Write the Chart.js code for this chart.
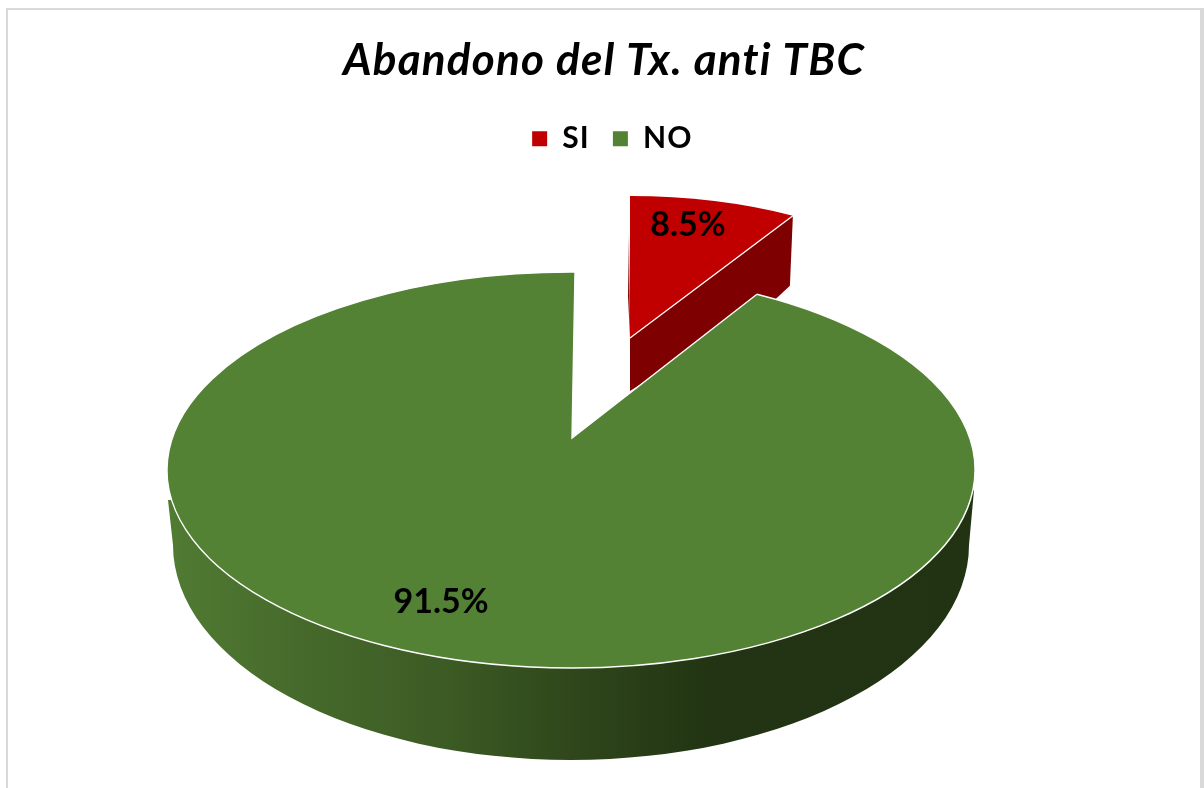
<!DOCTYPE html>
<html>
<head>
<meta charset="utf-8">
<style>html,body{margin:0;padding:0;background:#fff}canvas{display:block}</style>
<script src="https://cdn.jsdelivr.net/npm/chart.js@4"></script>
</head>
<body>
<canvas id="c" width="1204" height="788"></canvas>
<script>
const categories = ['SI', 'NO'];
const percentages = [8.5, 91.5];
const sliceColors = ['#c00000', '#548235'];
const titleText = 'Abandono del Tx. anti TBC';

// Projection of the flat pie onto the tilted 3D look
const FONT = 'Lato, Carlito, "Open Sans", sans-serif';
const greenTop = {cx: 571, cy: 470, rx: 404, ry: 198};
const greenBase = {cx: 571, cy: 545, rx: 398, ry: 215};
const greenApex = {x: 572, y: 438};
const greenTrim = {start: 0.57, end: 27.4};   // perspective-corrected cut angles (deg)
const redTop = {cx: 630, cy: 338, rx: 320, ry: 142};
const redDepth = {apex: 53, corner: 70};
const labelAnchors = [{x: 688, y: 225}, {x: 441, y: 602}];

const deg = Math.PI / 180;
const toCanvasAngle = t => (t - 90) * deg;

function applyProjection(ctx, arc, p) {
  const R = arc.outerRadius;
  ctx.translate(p.cx, p.cy);
  ctx.scale(p.rx / R, p.ry / R);
  ctx.translate(-arc.x, -arc.y);
}
function ptOn(p, angle) {
  return {x: p.cx + p.rx * Math.cos(angle), y: p.cy + p.ry * Math.sin(angle)};
}

const pie3d = {
  id: 'pie3d',
  afterLayout(chart) {
    chart.titleBlock.left += 2; chart.titleBlock.right += 2;
    chart.legend.left += 8; chart.legend.right += 8;
  },
  beforeDraw(chart) {
    const ctx = chart.ctx;
    ctx.letterSpacing = '1.2px';
    ctx.save();
    ctx.fillStyle = '#d9d9d9';
    ctx.fillRect(6, 8, 2, 780);
    ctx.fillRect(6, 8, 1198, 2);
    ctx.fillRect(1200, 8, 4, 780);
    ctx.restore();
  },
  beforeDatasetDraw(chart, args) {
    const ctx = chart.ctx;
    const [red, green] = chart.getDatasetMeta(args.index).data;

    // ---- SI slice: walls, then top ----
    const rS = red.startAngle, rE = red.endAngle;
    const corner = ptOn(redTop, rE);
    const top = ptOn(redTop, rS);
    ctx.save();
    ctx.fillStyle = '#7f0000';
    ctx.beginPath();
    ctx.moveTo(redTop.cx, redTop.cy);
    ctx.lineTo(redTop.cx, redTop.cy + redDepth.apex);
    ctx.lineTo(corner.x - 18, corner.y + redDepth.corner + 14);
    ctx.lineTo(corner.x - 3, corner.y + redDepth.corner);
    ctx.lineTo(corner.x, corner.y);
    ctx.closePath();
    ctx.fill();
    ctx.beginPath();
    ctx.moveTo(top.x - 1, top.y + 38);
    ctx.lineTo(redTop.cx, redTop.cy);
    ctx.lineTo(top.x - 2, top.y + 100);
    ctx.closePath();
    ctx.fill();
    ctx.restore();

    ctx.save();
    applyProjection(ctx, red, redTop);
    red.draw(ctx);
    ctx.restore();

    ctx.save();
    ctx.strokeStyle = '#ffffff';
    ctx.lineWidth = 1.3;
    ctx.beginPath();
    ctx.moveTo(corner.x, corner.y);
    ctx.lineTo(redTop.cx, redTop.cy);
    ctx.stroke();
    ctx.restore();

    // ---- NO slice: outer wall with shading ----
    ctx.save();
    const grad = ctx.createLinearGradient(170, 0, 970, 0);
    grad.addColorStop(0, '#507b33');
    grad.addColorStop(0.16, '#466a2b');
    grad.addColorStop(0.35, '#3c5a24');
    grad.addColorStop(0.50, '#2f471b');
    grad.addColorStop(0.68, '#223413');
    grad.addColorStop(1, '#223313');
    ctx.fillStyle = grad;
    ctx.beginPath();
    ctx.moveTo(greenTop.cx - greenTop.rx + 1, greenTop.cy + 30);
    ctx.ellipse(greenBase.cx, greenBase.cy, greenBase.rx, greenBase.ry, 0, Math.PI, 0, true);
    ctx.lineTo(greenTop.cx + greenTop.rx - 1, greenTop.cy + 20);
    ctx.closePath();
    ctx.fill();
    ctx.restore();

    // ---- NO slice: top ----
    ctx.save();
    applyProjection(ctx, green, greenTop);
    green.draw(ctx);
    ctx.restore();

    // Perspective moves the apex back from the ellipse centre
    const g = greenTop;
    const a0 = toCanvasAngle(greenTrim.start), a1 = toCanvasAngle(greenTrim.end);
    ctx.save();
    ctx.fillStyle = sliceColors[1];
    ctx.beginPath();
    ctx.moveTo(g.cx - 3, g.cy);
    ctx.lineTo(g.cx - 3, g.cy - g.ry + 1);
    ctx.ellipse(g.cx, g.cy, g.rx, g.ry, 0, toCanvasAngle(-0.5), a0);
    ctx.lineTo(greenApex.x, greenApex.y);
    const b = ptOn(g, a1);
    ctx.lineTo(b.x, b.y);
    ctx.ellipse(g.cx, g.cy, g.rx, g.ry, 0, a1, green.startAngle + 0.02);
    ctx.lineTo(g.cx + 2, g.cy + 6);
    ctx.closePath();
    ctx.fill();

    ctx.strokeStyle = '#ffffff';
    ctx.lineWidth = 1.4;
    ctx.beginPath();
    ctx.ellipse(g.cx, g.cy, g.rx, g.ry, 0, a1, a0 + Math.PI * 2);
    ctx.stroke();
    ctx.beginPath();
    const t = ptOn(g, a0);
    ctx.moveTo(t.x, t.y);
    ctx.lineTo(greenApex.x, greenApex.y);
    ctx.lineTo(b.x, b.y);
    ctx.stroke();
    ctx.restore();

    return false;
  },
  afterDatasetsDraw(chart) {
    const ctx = chart.ctx;
    ctx.save();
    ctx.fillStyle = '#000';
    ctx.letterSpacing = '0px';
    ctx.font = 'bold 34px ' + FONT;
    ctx.textAlign = 'center';
    ctx.textBaseline = 'middle';
    percentages.forEach((v, i) => {
      ctx.fillText(v.toFixed(1) + '%', labelAnchors[i].x, labelAnchors[i].y);
    });
    ctx.restore();
  }
};

new Chart(document.getElementById('c'), {
  type: 'pie',
  data: {
    labels: categories,
    datasets: [{data: percentages, backgroundColor: sliceColors, borderWidth: 0}]
  },
  options: {
    responsive: false,
    animation: false,
    events: [],
    plugins: {
      tooltip: {enabled: false},
      title: {
        display: true,
        text: titleText,
        color: '#000',
        font: {family: FONT, size: 44, style: 'italic', weight: 'bold'},
        padding: {top: 34, bottom: 14}
      },
      legend: {
        display: true,
        position: 'top',
        labels: {
          boxWidth: 15, boxHeight: 15, padding: 23, color: '#000',
          font: {family: FONT, size: 30, weight: 'bold'}
        }
      }
    }
  },
  plugins: [pie3d]
});
</script>
</body>
</html>
